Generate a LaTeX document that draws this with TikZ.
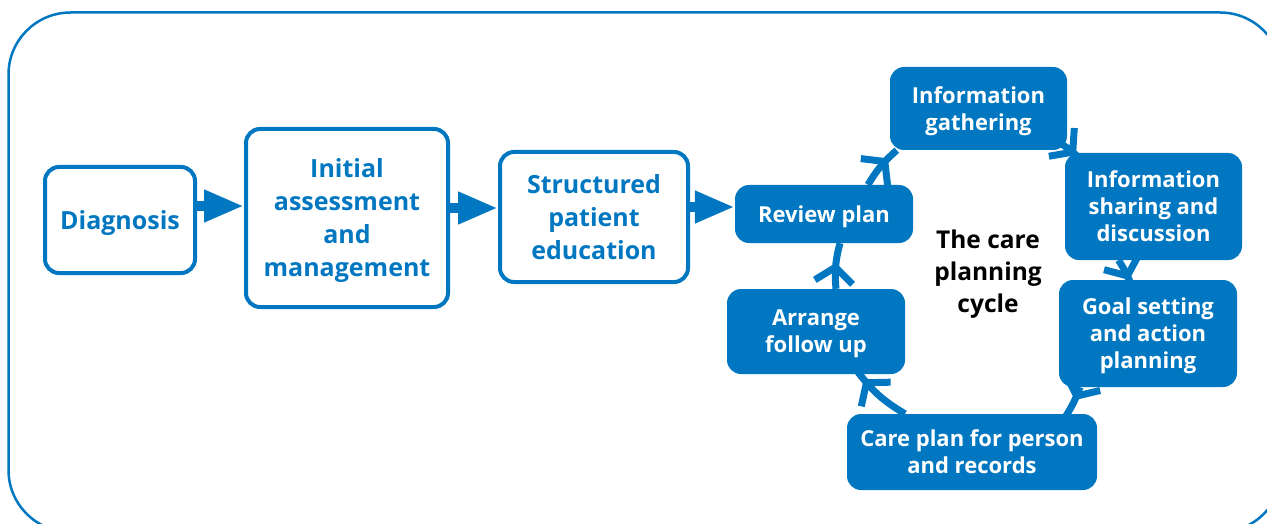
\documentclass[tikz,border=0pt]{standalone}
\usepackage{fontspec}
\setmainfont{Open Sans}
\usetikzlibrary{positioning}
\usetikzlibrary{arrows.meta}
\usetikzlibrary{decorations.markings}
\definecolor{nhs-blue}{HTML}{0077C0}
\newlength{\gridc}
\setlength{\gridc}{10pt}
\tikzset{
  outlinebox/.style={draw=nhs-blue, line width=0.4\gridc, rounded corners=1.4\gridc, inner sep=0pt,
    text=nhs-blue, align=center, font=\fontsize{25}{33}\selectfont\bfseries, text depth=-3pt},
  cyclebox/.style={fill=nhs-blue, rounded corners=1.4\gridc, inner sep=0pt,
    text=white, align=center, font=\fontsize{22}{27}\selectfont\bfseries, text depth=-3pt},
  flowarrow/.style={nhs-blue, line width=1.0\gridc, -{Triangle[length=40pt, width=30pt]}},
  cyclearrow/.style={nhs-blue, line width=0.7\gridc, postaction={decorate},
    decoration={markings, mark=at position #1 with {\arrow{Straight Barb[length=15pt, width=38pt]}}}}
}
\begin{document}
\begin{tikzpicture}
    \useasboundingbox (0,0) rectangle (126.7\gridc,-52.4\gridc);
    \clip (0,0) rectangle (126.7\gridc,-52.4\gridc);
    % frame
    \draw[nhs-blue, line width=0.25\gridc, rounded corners=6.2\gridc] (0.85\gridc,-1.25\gridc) rectangle (128.2\gridc,-53.2\gridc);

    % pathway
    \draw (12.0\gridc,-22.0\gridc)
		node[outlinebox, minimum width=15.0\gridc, minimum height=10.6\gridc]
			(Diagnosis) {Diagnosis};
    \draw (34.7\gridc,-21.8\gridc)
		node[outlinebox, minimum width=20.2\gridc, minimum height=17.8\gridc]
			(Assessment) {Initial\\assessment\\and\\management};
    \draw (59.4\gridc,-21.7\gridc)
		node[outlinebox, minimum width=18.8\gridc, minimum height=13.0\gridc]
			(Education) {Structured\\patient\\education};

    % cycle
    \draw (82.4\gridc,-21.4\gridc)
		node[cyclebox, minimum width=17.8\gridc, minimum height=5.8\gridc]
			(Review) {Review plan};
    \draw (97.85\gridc,-10.85\gridc)
		node[cyclebox, minimum width=17.7\gridc, minimum height=8.3\gridc]
			(Gathering) {Information\\gathering};
    \draw (115.35\gridc,-20.65\gridc)
		node[cyclebox, minimum width=17.7\gridc, minimum height=10.7\gridc]
			(Sharing) {Information\\sharing and\\discussion};
    \draw (114.8\gridc,-33.35\gridc)
		node[cyclebox, minimum width=17.8\gridc, minimum height=10.7\gridc]
			(Goals) {Goal setting\\and action\\planning};
    \draw (97.2\gridc,-45.2\gridc)
		node[cyclebox, minimum width=25.0\gridc, minimum height=7.6\gridc]
			(CarePlan) {Care plan for person\\and records};
    \draw (81.6\gridc,-33.15\gridc)
		node[cyclebox, minimum width=17.8\gridc, minimum height=8.5\gridc]
			(FollowUp) {Arrange\\follow up};
    \draw (98.8\gridc,-27.1\gridc)
		node[align=center, font=\fontsize{24.5}{32}\selectfont\bfseries, text depth=-3pt]
			(CycleTitle) {The care\\planning\\cycle};

	\path ([yshift=1.4\gridc]Diagnosis.east) coordinate (flowA)
	      ([yshift=1.0\gridc]Assessment.east) coordinate (flowB)
	      ([yshift=1.0\gridc]Education.east) coordinate (flowC);
	\draw[flowarrow] (flowA) -- (flowA -| Assessment.west);
	\draw[flowarrow] (flowB) -- (flowB -| Education.west);
	\draw[flowarrow] (flowC) -- (flowC -| Review.west);

	\draw[cyclearrow=-12pt] ([xshift=4.4\gridc]Review.north) to[bend left=9] ([xshift=0.7\gridc]Gathering.south west);
	\draw[cyclearrow=-1pt] ([shift={(-0.7\gridc,0.7\gridc)}]Gathering.south east) to[bend left=5] ([shift={(1.2\gridc,-0.3\gridc)}]Sharing.north west);
	\draw[cyclearrow=-2pt] ([xshift=-3.5\gridc]Sharing.south) to[bend left=5] ([shift={(-1.8\gridc,-0.2\gridc)}]Goals.north);
	\draw[cyclearrow=-18pt] ([xshift=-6.8\gridc]Goals.south) to[bend left=6] ([shift={(9.4\gridc,-0.2\gridc)}]CarePlan.north);
	\draw[cyclearrow=-9pt] ([xshift=-6.7\gridc]CarePlan.north) to[bend left=11] ([shift={(4.2\gridc,0.2\gridc)}]FollowUp.south);
	\draw[cyclearrow=-20pt] ([xshift=2.0\gridc]FollowUp.north) to[bend left=10] ([xshift=1.6\gridc]Review.south);
\end{tikzpicture}
\end{document}
